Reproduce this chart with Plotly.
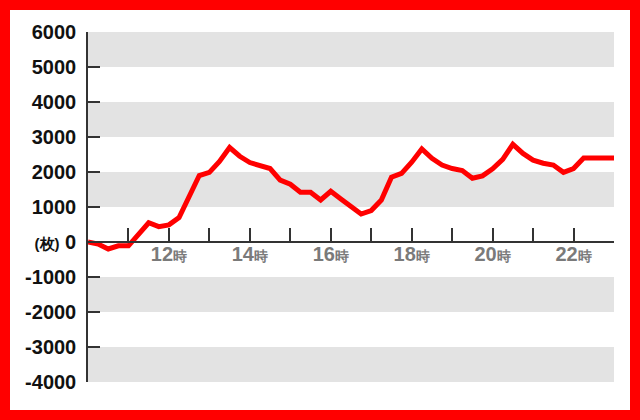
import plotly.graph_objects as go

times = ["10:00", "10:15", "10:30", "10:45", "11:00", "11:15", "11:30", "11:45",
         "12:00", "12:15", "12:30", "12:45", "13:00", "13:15", "13:30", "13:45",
         "14:00", "14:15", "14:30", "14:45", "15:00", "15:15", "15:30", "15:45",
         "16:00", "16:15", "16:30", "16:45", "17:00", "17:15", "17:30", "17:45",
         "18:00", "18:15", "18:30", "18:45", "19:00", "19:15", "19:30", "19:45",
         "20:00", "20:15", "20:30", "20:45", "21:00", "21:15", "21:30", "21:45",
         "22:00", "22:15", "22:30", "22:45", "23:00"]
values = [0, -60, -200, -110, -110, 230, 550, 440,
          490, 700, 1300, 1900, 1990, 2300, 2700, 2450,
          2270, 2170, 2100, 1770, 1650, 1420, 1420, 1200,
          1450, 1230, 1020, 800, 900, 1200, 1850, 1960,
          2280, 2660, 2390, 2200, 2100, 2040, 1820, 1890,
          2090, 2360, 2790, 2530, 2340, 2250, 2200, 1990,
          2100, 2400, 2400, 2400, 2400]

x_tick_hours = [11, 12, 13, 14, 15, 16, 17, 18, 19, 20, 21, 22]
x_tick_labels = ["", "12", "", "14", "", "16", "", "18", "", "20", "", "22"]
y_tick_vals = [6000, 5000, 4000, 3000, 2000, 1000, 0, -1000, -2000, -3000, -4000]
y_tick_labels = ["6000", "5000", "4000", "3000", "2000", "1000", "0",
                 "-1000", "-2000", "-3000", "-4000"]
band_ranges = [(5000, 6000), (3000, 4000), (1000, 2000), (-2000, -1000), (-4000, -3000)]

def to_hours(t):
    h, m = t.split(":")
    return int(h) + int(m) / 60.0

xs = [to_hours(t) for t in times]

W, H = 640, 420
L, R, T, B = 88, 26, 32, 38
pw, ph = W - L - R, H - T - B

fig = go.Figure()
fig.add_trace(go.Scatter(x=xs, y=values, mode="lines",
                         line=dict(color="#ff0000", width=5),
                         hoverinfo="skip", cliponaxis=False))

for y0, y1 in band_ranges:
    fig.add_shape(type="rect", xref="x", yref="y", x0=10, x1=23, y0=y0, y1=y1,
                  fillcolor="#e3e3e3", line_width=0, layer="below")

# red frame
def px_x(p):
    return (p - L) / pw
def px_y(p):
    return (H - B - p) / ph

fig.add_shape(type="rect", xref="paper", yref="paper",
              x0=px_x(5), x1=px_x(635), y0=px_y(5), y1=px_y(415),
              line=dict(color="#ff0000", width=10), fillcolor="rgba(0,0,0,0)",
              layer="above")

xt = [f"{l}<span style='font-size:14px'>時</span>" if l else "" for l in x_tick_labels]
yt = [("<span style='font-size:15px'>(枚)</span> 0" if l == "0" else l) for l in y_tick_labels]

fig.update_layout(
    width=W, height=H,
    margin=dict(l=L, r=R, t=T, b=B, pad=0),
    paper_bgcolor="white", plot_bgcolor="white",
    showlegend=False,
    xaxis=dict(range=[10, 23], tickmode="array", tickvals=x_tick_hours, ticktext=xt,
               ticks="inside", ticklen=13, tickwidth=1.5, tickcolor="#333333",
               showline=True, linecolor="#333333", linewidth=1.5,
               showgrid=False, zeroline=False, anchor="free", position=0.4,
               tickfont=dict(family="Liberation Sans, Arial, sans-serif", size=20,
                             color="#7a7a7a", weight="bold"),
               ticklabelstandoff=-6, fixedrange=True),
    yaxis=dict(range=[-4000, 6000], tickmode="array", tickvals=y_tick_vals, ticktext=yt,
               ticks="inside", ticklen=12, tickwidth=1.5, tickcolor="#333333",
               showline=True, linecolor="#333333", linewidth=1.5,
               showgrid=False, zeroline=False,
               tickfont=dict(family="Liberation Sans, Arial, sans-serif", size=20,
                             color="#111111", weight="bold"),
               ticklabelstandoff=6, fixedrange=True),
)

fig.write_html("out.html", config={"displayModeBar": False},
               post_script="document.body.style.margin='0';document.body.style.overflow='hidden';")
